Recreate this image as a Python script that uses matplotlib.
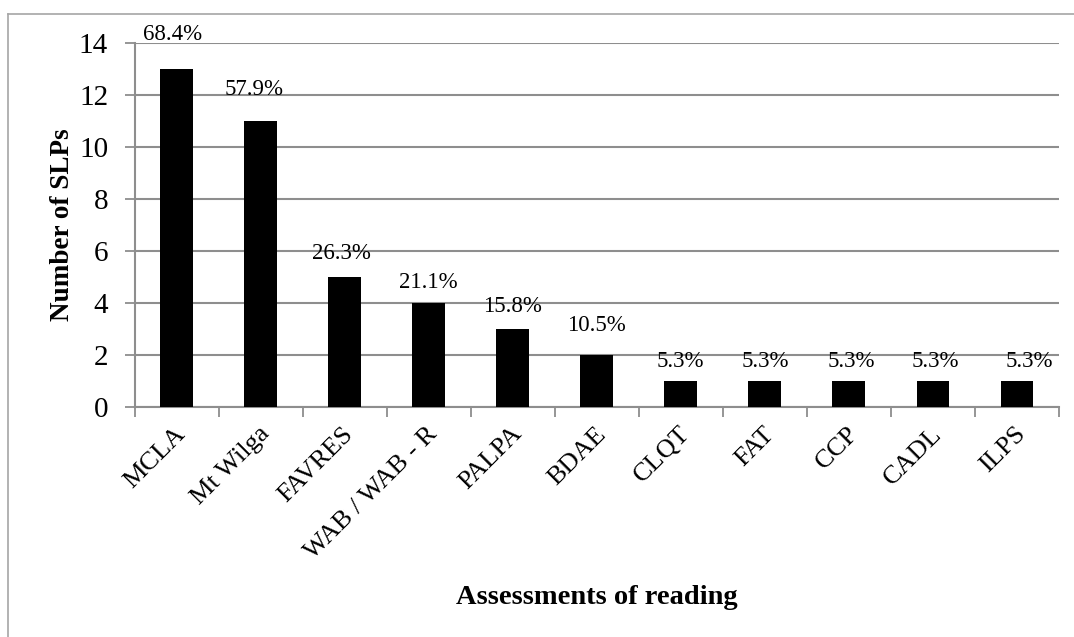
import matplotlib
matplotlib.use("Agg")
import matplotlib.pyplot as plt
from matplotlib.lines import Line2D

categories = ["MCLA", "Mt Wilga", "FAVRES", "WAB / WAB - R", "PALPA", "BDAE",
              "CLQT", "FAT", "CCP", "CADL", "ILPS"]
counts = [13, 11, 5, 4, 3, 2, 1, 1, 1, 1, 1]
percent_labels = ["68.4%", "57.9%", "26.3%", "21.1%", "15.8%", "10.5%",
                  "5.3%", "5.3%", "5.3%", "5.3%", "5.3%"]
y_ticks = [0, 2, 4, 6, 8, 10, 12, 14]

# label offsets in points (dx, dy) from bar top
label_dx = [-3, -5, -2, 0, 0, 0, 0, 0, 2, 2, 9]
label_dy = [25, 23, 17, 15, 16, 21, 14, 14, 14, 14, 14]

plt.rcParams['font.family'] = ['Liberation Serif', 'DejaVu Serif']
grid_col = "#8e8e8e"

fig = plt.figure(figsize=(10.74, 6.37), dpi=100)
ax = fig.add_axes([134.5/1074, 1-407/637, (1059-134.5)/1074, (407-43)/637])

x = list(range(len(categories)))
ax.bar(x, counts, width=0.39, color="black", zorder=3)
ax.set_xlim(-0.5, len(categories)-0.5)
ax.set_ylim(0, 14)
ax.set_yticks(y_ticks)
ax.set_yticklabels([str(t) for t in y_ticks], fontsize=21)
ax.yaxis.grid(True, color=grid_col, linewidth=1.5, zorder=0)
ax.set_axisbelow(True)

ax.set_xticks([i + 0.5 for i in range(-1, len(categories))], minor=False)
ax.set_xticklabels([])
ax.tick_params(axis='x', which='major', length=7, color=grid_col, width=1.3, direction='out')
ax.tick_params(axis='y', length=7, color=grid_col, width=1.3, direction='out', pad=12)
for i, c in enumerate(categories):
    ax.annotate(c, xy=(i, 0), xycoords=('data', 'data'), xytext=(4, -17),
                textcoords='offset points', rotation=45, rotation_mode='anchor',
                ha='right', va='center', fontsize=19)

for s in ['top', 'right']:
    ax.spines[s].set_visible(False)
for s in ['left', 'bottom']:
    ax.spines[s].set_color(grid_col)
    ax.spines[s].set_linewidth(1.5)

for i, (v, lab) in enumerate(zip(counts, percent_labels)):
    ax.annotate(lab, xy=(i, v), xytext=(label_dx[i], label_dy[i]), textcoords='offset points',
                ha='center', va='center', fontsize=16.5)

ax.set_ylabel("Number of SLPs", fontsize=19.5, fontweight='bold', labelpad=3)
fig.text(597/1074, 1-598/637, "Assessments of reading", fontsize=20.5, fontweight='bold',
         ha='center', va='center')

# outer frame (top and left)
fig.add_artist(Line2D([8/1074, 8/1074], [0, 1-14/637], transform=fig.transFigure,
                      color="#a6a6a6", linewidth=1.2))
fig.add_artist(Line2D([8/1074, 1], [1-14/637, 1-14/637], transform=fig.transFigure,
                      color="#a6a6a6", linewidth=1.2))

fig.savefig("out.png", dpi=100)
